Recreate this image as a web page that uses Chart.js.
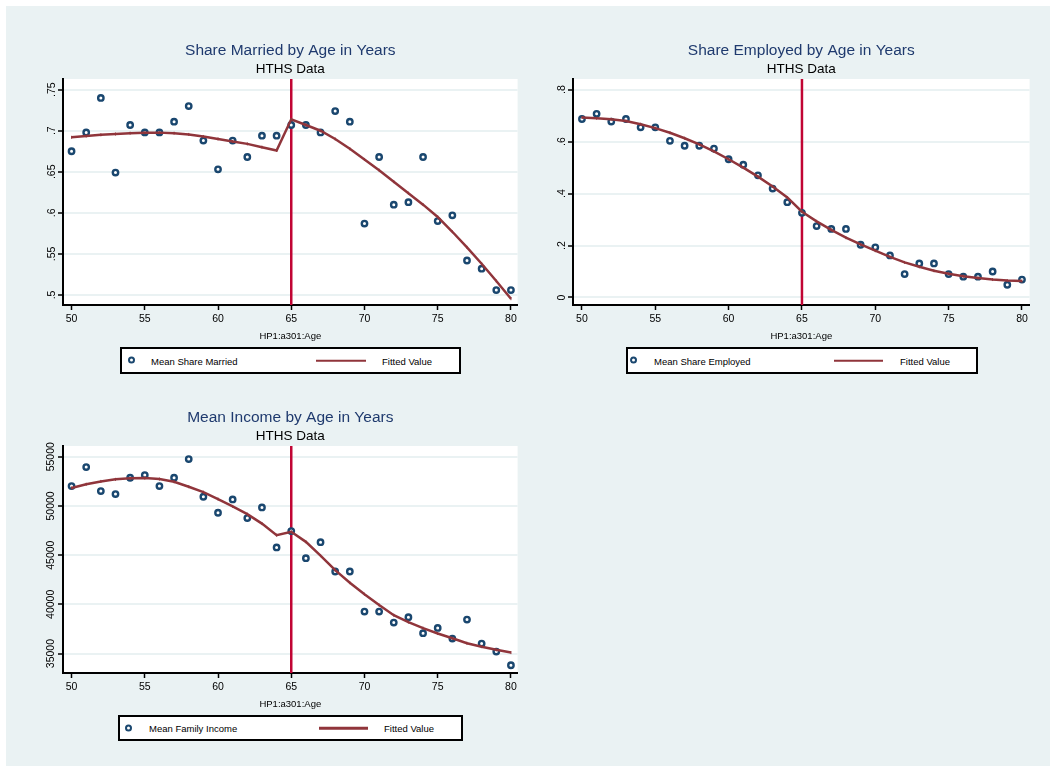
<!DOCTYPE html>
<html>
<head>
<meta charset="utf-8">
<title>HTHS Data by Age</title>
<script src="https://cdn.jsdelivr.net/npm/chart.js@4"></script>
<style>
  body { margin: 0; background: #fff; font-family: "Liberation Sans", Arial, sans-serif; }
  #page { position: absolute; left: 6px; top: 6px; width: 1044px; height: 760px; background: #eaf2f3; }
  canvas { position: absolute; }
  .legend { position: absolute; background: #fff; border: 2px solid #000; box-sizing: border-box; font-size: 9.5px; color: #000; }
  .legend > * { position: absolute; top: 50%; transform: translateY(-50%); }
  .dot { width: 3px; height: 3px; border: 2.4px solid #1a476f; border-radius: 50%; margin-left: -3.9px; margin-top: -0.5px; }
  .seg { height: 2.5px; background: #90353b; }
</style>
</head>
<body>
<div id="page"></div>
<canvas id="married" width="518" height="340" style="left:6px;top:6px"></canvas>
<canvas id="employed" width="520" height="340" style="left:516px;top:6px"></canvas>
<canvas id="income" width="518" height="341" style="left:6px;top:373px"></canvas>
<div id="legends"></div>
<script>
// Age in years, shared by all three panels
const ages = [50, 51, 52, 53, 54, 55, 56, 57, 58, 59, 60, 61, 62, 63, 64, 65,
              66, 67, 68, 69, 70, 71, 72, 73, 74, 75, 76, 77, 78, 79, 80];
const xTicks = [50, 55, 60, 65, 70, 75, 80];
const cutoffAge = 65;
const xTitle = "HP1:a301:Age";
const subTitle = "HTHS Data";
const fitLabel = "Fitted Value";

// Share married
const marriedShare = [0.675, 0.698, 0.740, 0.649, 0.707, 0.698, 0.698, 0.711, 0.730, 0.688, 0.653,
                      0.688, 0.668, 0.694, 0.694, 0.707, 0.707, 0.698, 0.724, 0.711, 0.587,
                      0.668, 0.610, 0.613, 0.668, 0.590, 0.597, 0.542, 0.532, 0.506, 0.506];
const marriedFit = [0.692, 0.6935, 0.695, 0.696, 0.697, 0.6975, 0.6977, 0.697, 0.6955, 0.693, 0.690,
                    0.687, 0.684, 0.680, 0.676, 0.714, 0.707, 0.700, 0.690, 0.678, 0.665,
                    0.652, 0.638, 0.624, 0.610, 0.595, 0.577, 0.558, 0.538, 0.517, 0.4955];
const marriedTicks = [0.5, 0.55, 0.6, 0.65, 0.7, 0.75];
const marriedTickLabels = [".5", ".55", ".6", ".65", ".7", ".75"];

// Share employed
const employedShare = [0.687, 0.707, 0.677, 0.687, 0.655, 0.655, 0.603, 0.584, 0.584, 0.573, 0.532,
                       0.511, 0.470, 0.419, 0.367, 0.326, 0.275, 0.264, 0.264, 0.203, 0.193,
                       0.162, 0.090, 0.131, 0.131, 0.090, 0.080, 0.080, 0.100, 0.049, 0.069];
const employedFit = [0.693, 0.690, 0.686, 0.679, 0.667, 0.652, 0.634, 0.613, 0.589, 0.562, 0.532,
                     0.500, 0.465, 0.427, 0.385, 0.330, 0.293, 0.260, 0.230, 0.204, 0.180,
                     0.156, 0.135, 0.118, 0.103, 0.091, 0.082, 0.075, 0.069, 0.065, 0.063];
const employedTicks = [0, 0.2, 0.4, 0.6, 0.8];
const employedTickLabels = ["0", ".2", ".4", ".6", ".8"];

// Mean family income
const incomeMean = [52017, 53949, 51508, 51203, 52864, 53136, 52017, 52864, 54763, 50932, 49305,
                    50661, 48763, 49847, 45780, 47441, 44695, 46322, 43339, 43339, 39271,
                    39271, 38153, 38695, 37068, 37610, 36525, 38458, 36017, 35203, 33814];
const incomeFit = [51814, 52200, 52490, 52700, 52800, 52830, 52730, 52450, 51950, 51400, 50700,
                   49950, 49170, 48200, 47030, 47370, 46350, 44950, 43470, 42200, 41030,
                   39930, 38900, 38200, 37580, 37035, 36550, 36050, 35700, 35380, 35100];
const incomeTicks = [35000, 40000, 45000, 50000, 55000];
const incomeTickLabels = ["35000", "40000", "45000", "50000", "55000"];

const FONT = "'Liberation Sans', Arial, sans-serif";
const NAVY = "#1a476f";
const MAROON = "#90353b";

// white plot region
const plotBackground = {
  id: "plotBackground",
  beforeDraw(chart) {
    const { ctx, chartArea: a } = chart;
    ctx.save();
    ctx.fillStyle = "#fff";
    ctx.fillRect(a.left, a.top, a.right - a.left, a.bottom - a.top);
    ctx.restore();
  }
};

// vertical reference line at the cutoff age
const cutoffLine = {
  id: "cutoffLine",
  beforeDatasetsDraw(chart) {
    const { ctx, chartArea: a } = chart;
    const x = chart.scales.x.getPixelForValue(cutoffAge);
    ctx.save();
    ctx.strokeStyle = "#c10534";
    ctx.lineWidth = 2.5;
    ctx.beginPath();
    ctx.moveTo(x, a.top);
    ctx.lineTo(x, a.bottom);
    ctx.stroke();
    ctx.restore();
  }
};

function makeChart(id, title, dots, fit, yTicks, yLabels, yMin, yMax, xMin, xMax, labelPad) {
  new Chart(document.getElementById(id), {
    type: "scatter",
    data: {
      datasets: [
        {
          type: "line",
          data: ages.map((a, i) => ({ x: a, y: fit[i] })),
          borderColor: MAROON,
          borderWidth: 2.5,
          pointStyle: "line",
          pointRotation: 90,
          pointRadius: 1.5,
          pointBorderWidth: 1,
          pointBorderColor: MAROON,
          tension: 0,
          order: 0
        },
        {
          type: "scatter",
          data: ages.map((a, i) => ({ x: a, y: dots[i] })),
          pointRadius: 2.7,
          pointBorderWidth: 2.4,
          pointBorderColor: NAVY,
          pointBackgroundColor: "#fff",
          order: 1
        }
      ]
    },
    options: {
      responsive: false,
      animation: false,
      layout: { padding: { left: 0, right: 4, top: 0, bottom: 1 } },
      plugins: {
        legend: { display: false },
        tooltip: { enabled: false },
        title: {
          display: true, text: title, color: "#1f3a6e", fullSize: false,
          font: { family: FONT, size: 15.5, weight: "normal" },
          padding: { top: 35.2, bottom: 0.5 }
        },
        subtitle: {
          display: true, text: subTitle, color: "#000", fullSize: false,
          font: { family: FONT, size: 13.5, weight: "normal" },
          padding: { top: 0.7, bottom: 1.8 }
        }
      },
      scales: {
        x: {
          type: "linear", min: xMin, max: xMax,
          afterBuildTicks: s => { s.ticks = xTicks.map(v => ({ value: v })); },
          afterFit: s => { s.height = 40; },
          grid: { drawOnChartArea: false, tickLength: 5, tickColor: "#000", tickWidth: 1.5 },
          border: { color: "#000", width: 2 },
          ticks: { color: "#000", font: { family: FONT, size: 10.5 }, padding: 3, autoSkip: false, maxRotation: 0 },
          title: { display: true, text: xTitle, color: "#000", font: { family: FONT, size: 9.5 }, padding: { top: 0, bottom: 2.5 } }
        },
        y: {
          type: "linear", min: yMin, max: yMax,
          afterBuildTicks: s => { s.ticks = yTicks.map(v => ({ value: v })); },
          afterFit: s => { s.width = 57; },
          grid: { color: "#eaf2f3", lineWidth: 2, tickLength: 5, tickColor: "#000", tickWidth: 1.5 },
          border: { color: "#000", width: 2 },
          ticks: {
            color: "#000", font: { family: FONT, size: 10.5 }, padding: labelPad, autoSkip: false,
            minRotation: 90, maxRotation: 90, crossAlign: "center",
            callback: v => yLabels[yTicks.indexOf(v)]
          }
        }
      }
    },
    plugins: [plotBackground, cutoffLine]
  });
}

makeChart("married", "Share Married by Age in Years", marriedShare, marriedFit,
          marriedTicks, marriedTickLabels, 0.4878, 0.763, 49.416, 80.455, -1);
makeChart("employed", "Share Employed by Age in Years", employedShare, employedFit,
          employedTicks, employedTickLabels, -0.029, 0.841, 49.39, 80.52, 2);
makeChart("income", "Mean Income by Age in Years", incomeMean, incomeFit,
          incomeTicks, incomeTickLabels, 33026, 56088, 49.416, 80.455, -8);

// Stata-style legend boxes under each panel
const legendBoxes = [
  { left: 120, top: 347, width: 341, height: 27, dot: 11.7, text1: 31, seg: [196, 246], text2: 262, label: "Mean Share Married" },
  { left: 626, top: 347, width: 352, height: 27, dot: 8, text1: 28, seg: [208, 257], text2: 274, label: "Mean Share Employed" },
  { left: 118, top: 715, width: 345, height: 26, dot: 10.7, text1: 31, seg: [201, 250], text2: 266, label: "Mean Family Income" }
];
const holder = document.getElementById("legends");
legendBoxes.forEach(b => {
  const box = document.createElement("div");
  box.className = "legend";
  Object.assign(box.style, { left: b.left + "px", top: b.top + "px", width: b.width + "px", height: b.height + "px" });
  box.innerHTML =
    `<div class="dot" style="left:${b.dot - 2}px"></div>` +
    `<span style="left:${b.text1 - 2}px">${b.label}</span>` +
    `<div class="seg" style="left:${b.seg[0] - 2}px;width:${b.seg[1] - b.seg[0]}px"></div>` +
    `<span style="left:${b.text2 - 2}px">${fitLabel}</span>`;
  holder.appendChild(box);
});
</script>
</body>
</html>
